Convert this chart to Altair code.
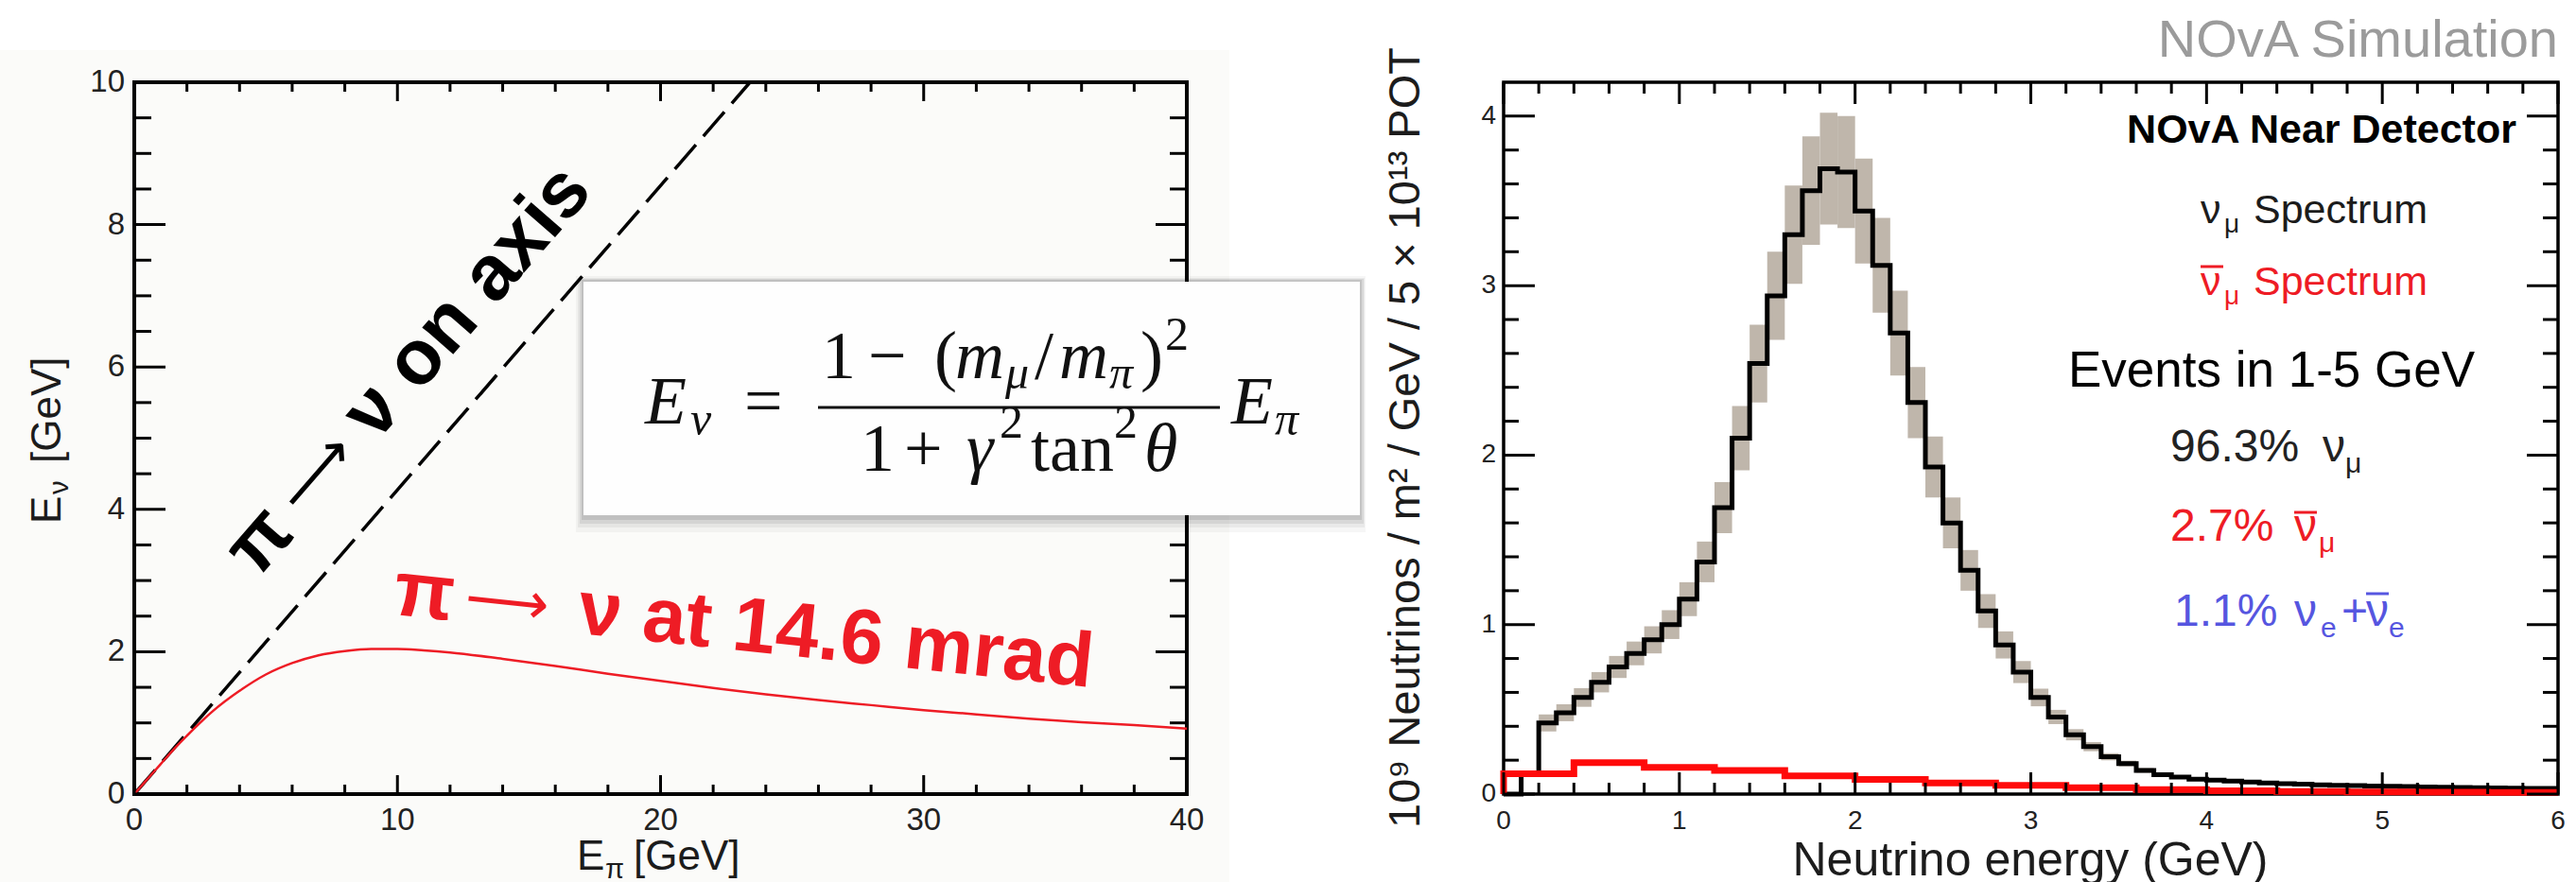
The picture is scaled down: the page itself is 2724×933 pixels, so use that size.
import altair as alt
import pandas as pd

SANS = "Liberation Sans, Arial, Helvetica, sans-serif"
SERIF = "Liberation Serif, Times New Roman, serif"
ARROW_FONT = "DejaVu Sans, Liberation Sans, sans-serif"
RED = "#ee1c25"
BLUE = "#5656e0"
DARK = "#1c1c1c"
INK = "#111111"

# ---------------- left panel: neutrino energy vs pion energy ----------------
pion_e_onaxis = [0.0, 23.4]
nu_e_onaxis = [0.0, 10.0]

pion_e_offaxis = [0, 0.5, 1, 1.5, 2, 3, 4, 5, 6, 7, 8, 9, 10, 11, 12, 14, 16, 18,
                  20, 22, 24, 26, 28, 30, 32, 34, 36, 38, 40]
nu_e_offaxis = [0, 0.21, 0.42, 0.63, 0.82, 1.17, 1.45, 1.68, 1.84, 1.95, 2.01, 2.04,
                2.04, 2.02, 1.99, 1.90, 1.80, 1.69, 1.59, 1.49, 1.40, 1.32, 1.25,
                1.18, 1.12, 1.06, 1.01, 0.97, 0.92]

left_x_labels = [0, 10, 20, 30, 40]
left_y_labels = [0, 2, 4, 6, 8, 10]
left_x_minor = [2, 4, 6, 8, 12, 14, 16, 18, 22, 24, 26, 28, 32, 34, 36, 38]
left_y_minor = [0.5, 1, 1.5, 2.5, 3, 3.5, 4.5, 5, 5.5, 6.5, 7, 7.5, 8.5, 9, 9.5]

# ---------------- right panel: NOvA near detector flux ----------------
numu_flux = [0.0, 0.12, 0.42, 0.48, 0.57, 0.66, 0.75, 0.83, 0.91, 1.00,
             1.15, 1.37, 1.69, 2.10, 2.54, 2.94, 3.30, 3.56, 3.69, 3.67,
             3.44, 3.12, 2.72, 2.31, 1.93, 1.60, 1.32, 1.08, 0.88, 0.72,
             0.57, 0.455, 0.35, 0.28, 0.22, 0.18, 0.14, 0.115, 0.10, 0.088,
             0.082, 0.076, 0.071, 0.066, 0.062, 0.058, 0.055, 0.052, 0.050, 0.048,
             0.046, 0.044, 0.042, 0.040, 0.039, 0.037, 0.036, 0.035, 0.034, 0.034]
numu_err = [0.0, 0.012, 0.05, 0.05, 0.055, 0.06, 0.065, 0.07, 0.08, 0.085,
            0.10, 0.12, 0.15, 0.19, 0.23, 0.26, 0.29, 0.32, 0.33, 0.33,
            0.31, 0.28, 0.25, 0.21, 0.18, 0.15, 0.12, 0.10, 0.08, 0.065,
            0.052, 0.042, 0.033, 0.027, 0.021, 0.017, 0.014, 0.012, 0.010, 0.009,
            0.008, 0.008, 0.007, 0.007, 0.007, 0.006, 0.006, 0.006, 0.006, 0.005,
            0.005, 0.005, 0.005, 0.005, 0.004, 0.004, 0.004, 0.004, 0.004, 0.004]
numu_width = 0.1

anumu_flux = [0.12, 0.185, 0.158, 0.14, 0.107, 0.087, 0.066, 0.052, 0.038, 0.026,
              0.020, 0.016, 0.013, 0.011, 0.010]
anumu_width = 0.4

right_x_labels = [0, 1, 2, 3, 4, 5, 6]
right_y_labels = [0, 1, 2, 3, 4]
right_x_minor = [round(i * 0.2, 1) for i in range(31) if i % 5]
right_y_minor = [round(i * 0.2, 1) for i in range(20) if i % 5]

LW, LH = 1113, 753
RW, RH = 1115, 753
ONE = pd.DataFrame({"n": [0]})


def txt(s, x, y, size, color=DARK, font=SANS, bold=False, italic=False,
        align="left", baseline="alphabetic", angle=0):
    props = dict(fontSize=size, color=color, font=font, align=align, baseline=baseline)
    if bold:
        props["fontWeight"] = "bold"
    if italic:
        props["fontStyle"] = "italic"
    if angle:
        props["angle"] = angle
    return alt.Chart(ONE).mark_text(**props).encode(
        x=alt.value(x), y=alt.value(y), text=alt.value(s))


def block(x, x2, y, y2, color, opacity=1.0):
    return alt.Chart(ONE).mark_rect(color=color, opacity=opacity).encode(
        x=alt.value(x), x2=alt.value(x2), y=alt.value(y), y2=alt.value(y2))


def hbar(x, x2, y, color, w):
    return alt.Chart(ONE).mark_rule(color=color, strokeWidth=w).encode(
        x=alt.value(x), x2=alt.value(x2), y=alt.value(y))


def ticks(vals, scale, axis_ch, length, W, H, sw):
    """Inward ticks on both opposite edges of the frame."""
    df = pd.DataFrame({"t": vals})
    base = alt.Chart(df).mark_rule(color="black", strokeWidth=sw)
    if axis_ch == "y":
        enc = alt.Y("t:Q", scale=scale, axis=None)
        return [base.encode(y=enc, x=alt.value(0), x2=alt.value(length)),
                base.encode(y=enc, x=alt.value(W), x2=alt.value(W - length))]
    enc = alt.X("t:Q", scale=scale, axis=None)
    return [base.encode(x=enc, y=alt.value(H), y2=alt.value(H - length)),
            base.encode(x=enc, y=alt.value(0), y2=alt.value(length))]


def tick_labels(vals, scale, axis_ch, size, pad, H):
    """Numeric tick labels placed through the panel's scale."""
    df = pd.DataFrame({"t": vals})
    if axis_ch == "x":
        return alt.Chart(df).mark_text(
            fontSize=size, font=SANS, color="#222222", align="center", baseline="top"
        ).encode(x=alt.X("t:Q", scale=scale, axis=None), y=alt.value(H + pad),
                 text=alt.Text("t:Q"))
    return alt.Chart(df).mark_text(
        fontSize=size, font=SANS, color="#222222", align="right", baseline="middle"
    ).encode(y=alt.Y("t:Q", scale=scale, axis=None), x=alt.value(-pad),
             text=alt.Text("t:Q"))


def frame(xd, yd, xs, ys, sw):
    df = pd.DataFrame({"a": [xd[0]], "b": [xd[1]], "c": [yd[0]], "d": [yd[1]]})
    return alt.Chart(df).mark_rect(filled=False, stroke="black", strokeWidth=sw).encode(
        x=alt.X("a:Q", scale=xs, axis=None), x2="b:Q",
        y=alt.Y("c:Q", scale=ys, axis=None), y2="d:Q")


def slanted(parts, angle, color):
    """A run of text pieces laid out along one rotated baseline.
    parts: (text, x, y, size, bold, font)"""
    out = []
    for s, x, y, size, bold, font in parts:
        out.append(txt(s, x, y, size, color=color, font=font, bold=bold,
                       align="left", baseline="middle", angle=angle))
    return out


# ======================= left panel =======================
lx = alt.Scale(domain=[0, 40], nice=False, zero=False)
ly = alt.Scale(domain=[0, 10], nice=False, zero=False)

onaxis = alt.Chart(pd.DataFrame({"e_pi": pion_e_onaxis, "e_nu": nu_e_onaxis})).mark_line(
    color="black", strokeWidth=3.5, strokeDash=[34, 12]).encode(
    x=alt.X("e_pi:Q", scale=lx, axis=None), y=alt.Y("e_nu:Q", scale=ly, axis=None))

offaxis = alt.Chart(pd.DataFrame({"e_pi": pion_e_offaxis, "e_nu": nu_e_offaxis})).mark_line(
    color=RED, strokeWidth=2.5, interpolate="monotone").encode(
    x=alt.X("e_pi:Q", scale=lx, axis=None), y=alt.Y("e_nu:Q", scale=ly, axis=None))

left_layers = [
    block(-142, -141, -87, -86, "white", 0.0),
    block(-142, 1158, -34, 846, "#fbfbf9"),
    frame([0, 40], [0, 10], lx, ly, 4),
    onaxis,
    offaxis,
]
left_layers += ticks(left_y_labels, ly, "y", 33, LW, LH, 3)
left_layers += ticks(left_y_minor, ly, "y", 18, LW, LH, 3)
left_layers += ticks(left_x_labels, lx, "x", 20, LW, LH, 3)
left_layers += ticks(left_x_minor, lx, "x", 10, LW, LH, 3)
left_layers += [
    tick_labels(left_x_labels, lx, "x", 33, 12, LH),
    tick_labels(left_y_labels, ly, "y", 33, 10, LH),
]

# axis titles with subscripts
left_layers += [
    txt("E", -78, 467, 44, angle=270),
    txt("ν", -70, 436, 29, angle=270),
    txt("[GeV]", -78, 403, 44, angle=270),
    txt("E", 468, 833, 44),
    txt("π", 498, 842, 29),
    txt("[GeV]", 528, 833, 44),
]

# annotations along the curves (thin arrow between bold symbols)
left_layers += slanted([
    ("π", 112, 509, 82, True, SANS),
    ("⟶", 164, 448, 62, False, ARROW_FONT),
    ("ν on axis", 237, 365, 82, True, SANS),
], 311, "black")
left_layers += slanted([
    ("π", 275, 538, 83, True, SANS),
    ("⟶", 350, 546, 62, False, ARROW_FONT),
    ("ν at 14.6 mrad", 470, 558, 82, True, SANS),
], 6, RED)

# formula card with a soft drop shadow
left_layers += [
    block(467, 1302, 205, 476, "black", 0.035),
    block(469, 1301, 207, 471, "black", 0.05),
    block(471, 1300, 208, 467, "black", 0.07),
    block(473, 1298, 209, 463, "black", 0.09),
    block(475, 1296, 211, 458, "#fefefe"),
]
# E_nu = (1 - (m_mu/m_pi)^2) / (1 + gamma^2 tan^2 theta) E_pi
left_layers += [
    txt("E", 540, 361, 72, color=INK, font=SERIF, italic=True),
    txt("ν", 588, 373, 50, color=INK, font=SERIF, italic=True),
    txt("=", 645, 361, 72, color=INK, font=SERIF),
    hbar(723, 1148, 344, INK, 3),
    txt("1", 727, 313, 72, color=INK, font=SERIF),
    txt("−", 776, 313, 72, color=INK, font=SERIF),
    txt("(", 846, 313, 72, color=INK, font=SERIF),
    txt("m", 868, 313, 72, color=INK, font=SERIF, italic=True),
    txt("μ", 921, 324, 50, color=INK, font=SERIF, italic=True),
    txt("/", 952, 313, 72, color=INK, font=SERIF),
    txt("m", 978, 313, 72, color=INK, font=SERIF, italic=True),
    txt("π", 1031, 324, 50, color=INK, font=SERIF, italic=True),
    txt(")", 1064, 313, 72, color=INK, font=SERIF),
    txt("2", 1090, 283, 50, color=INK, font=SERIF),
    txt("1", 768, 411, 72, color=INK, font=SERIF),
    txt("+", 814, 411, 72, color=INK, font=SERIF),
    txt("γ", 880, 411, 72, color=INK, font=SERIF, italic=True),
    txt("2", 915, 376, 50, color=INK, font=SERIF),
    txt("tan", 948, 411, 72, color=INK, font=SERIF),
    txt("2", 1036, 376, 50, color=INK, font=SERIF),
    txt("θ", 1068, 411, 72, color=INK, font=SERIF, italic=True),
    txt("E", 1160, 361, 72, color=INK, font=SERIF, italic=True),
    txt("π", 1206, 373, 50, color=INK, font=SERIF, italic=True),
]

left = alt.layer(*left_layers).properties(width=LW, height=LH)

# ======================= right panel =======================
rx = alt.Scale(domain=[0, 6], nice=False, zero=False)
ry = alt.Scale(domain=[0, 4.2], nice=False, zero=False)

numu_lo = [round(i * numu_width, 1) for i in range(len(numu_flux))]
band_df = pd.DataFrame({
    "lo": numu_lo,
    "hi": [round(v + numu_width, 1) for v in numu_lo],
    "low": [f - e for f, e in zip(numu_flux, numu_err)],
    "high": [f + e for f, e in zip(numu_flux, numu_err)],
})
numu_df = pd.DataFrame({
    "e": numu_lo + [6.0],
    "flux": numu_flux + [numu_flux[-1]],
    "i": list(range(len(numu_flux) + 1)),
})
anumu_lo = [round(i * anumu_width, 1) for i in range(len(anumu_flux))]
anumu_df = pd.DataFrame({
    "e": [0.0] + anumu_lo + [6.0],
    "flux": [0.0] + anumu_flux + [anumu_flux[-1]],
    "i": list(range(len(anumu_flux) + 2)),
})

band = alt.Chart(band_df).mark_rect(color="#bfb6ab").encode(
    x=alt.X("lo:Q", scale=rx, axis=None), x2="hi:Q",
    y=alt.Y("low:Q", scale=ry, axis=None), y2="high:Q")

numu_line = alt.Chart(numu_df).mark_line(
    color="black", strokeWidth=5, interpolate="step-after").encode(
    x=alt.X("e:Q", scale=rx, axis=None), y=alt.Y("flux:Q", scale=ry, axis=None),
    order="i:Q")

anumu_line = alt.Chart(anumu_df).mark_line(
    color="#ff0a0a", strokeWidth=7, interpolate="step-after").encode(
    x=alt.X("e:Q", scale=rx, axis=None), y=alt.Y("flux:Q", scale=ry, axis=None),
    order="i:Q")

right_layers = [frame([0, 6], [0, 4.2], rx, ry, 3.5), band, numu_line, anumu_line]
right_layers += ticks(right_y_labels, ry, "y", 33, RW, RH, 3)
right_layers += ticks(right_y_minor, ry, "y", 16, RW, RH, 3)
right_layers += ticks(right_x_labels, rx, "x", 23, RW, RH, 3)
right_layers += ticks(right_x_minor, rx, "x", 12, RW, RH, 3)
right_layers += [
    tick_labels(right_x_labels, rx, "x", 28, 15, RH),
    tick_labels(right_y_labels, ry, "y", 28, 8, RH),
]

right_layers += [
    txt("10⁹ Neutrinos / m² / GeV / 5 × 10¹³ POT", -103, 376, 47,
        align="center", baseline="middle", angle=270),
    txt("Neutrino energy (GeV)", 557, 839, 50, align="center"),
    txt("NOvA Simulation", 1115, -27, 56, color="#9b9b9b", align="right"),
    txt("NOvA Near Detector", 865, 64, 43, color="black", bold=True, align="center"),
    # nu_mu spectrum
    txt("ν", 737, 149, 43, color=DARK),
    txt("μ", 762, 159, 28, color=DARK),
    txt("Spectrum", 793, 149, 43, color=DARK),
    # anti nu_mu spectrum
    txt("ν", 737, 225, 43, color=RED),
    hbar(737, 761, 195, RED, 3),
    txt("μ", 762, 235, 28, color=RED),
    txt("Spectrum", 793, 225, 43, color=RED),
    txt("Events in 1-5 GeV", 812, 322, 53, color="black", align="center"),
    # composition
    txt("96.3%", 705, 401, 48, color="#222222"),
    txt("ν", 866, 401, 48, color="#222222"),
    txt("μ", 890, 413, 30, color="#222222"),
    txt("2.7%", 705, 485, 48, color=RED),
    txt("ν", 836, 485, 48, color=RED),
    hbar(836, 860, 455, RED, 3),
    txt("μ", 862, 497, 30, color=RED),
    txt("1.1%", 709, 575, 48, color=BLUE),
    txt("ν", 836, 575, 48, color=BLUE),
    txt("e", 864, 587, 30, color=BLUE),
    txt("+", 886, 575, 48, color=BLUE),
    txt("ν", 912, 575, 48, color=BLUE),
    hbar(912, 936, 541, BLUE, 3),
    txt("e", 936, 587, 30, color=BLUE),
]

right = alt.layer(*right_layers).properties(width=RW, height=RH)

chart = alt.hconcat(left, right, spacing=335, bounds="flush").properties(
    padding=0, background="white").configure_view(strokeWidth=0)

chart.save("out.html", embed_options={"renderer": "svg", "actions": False})
